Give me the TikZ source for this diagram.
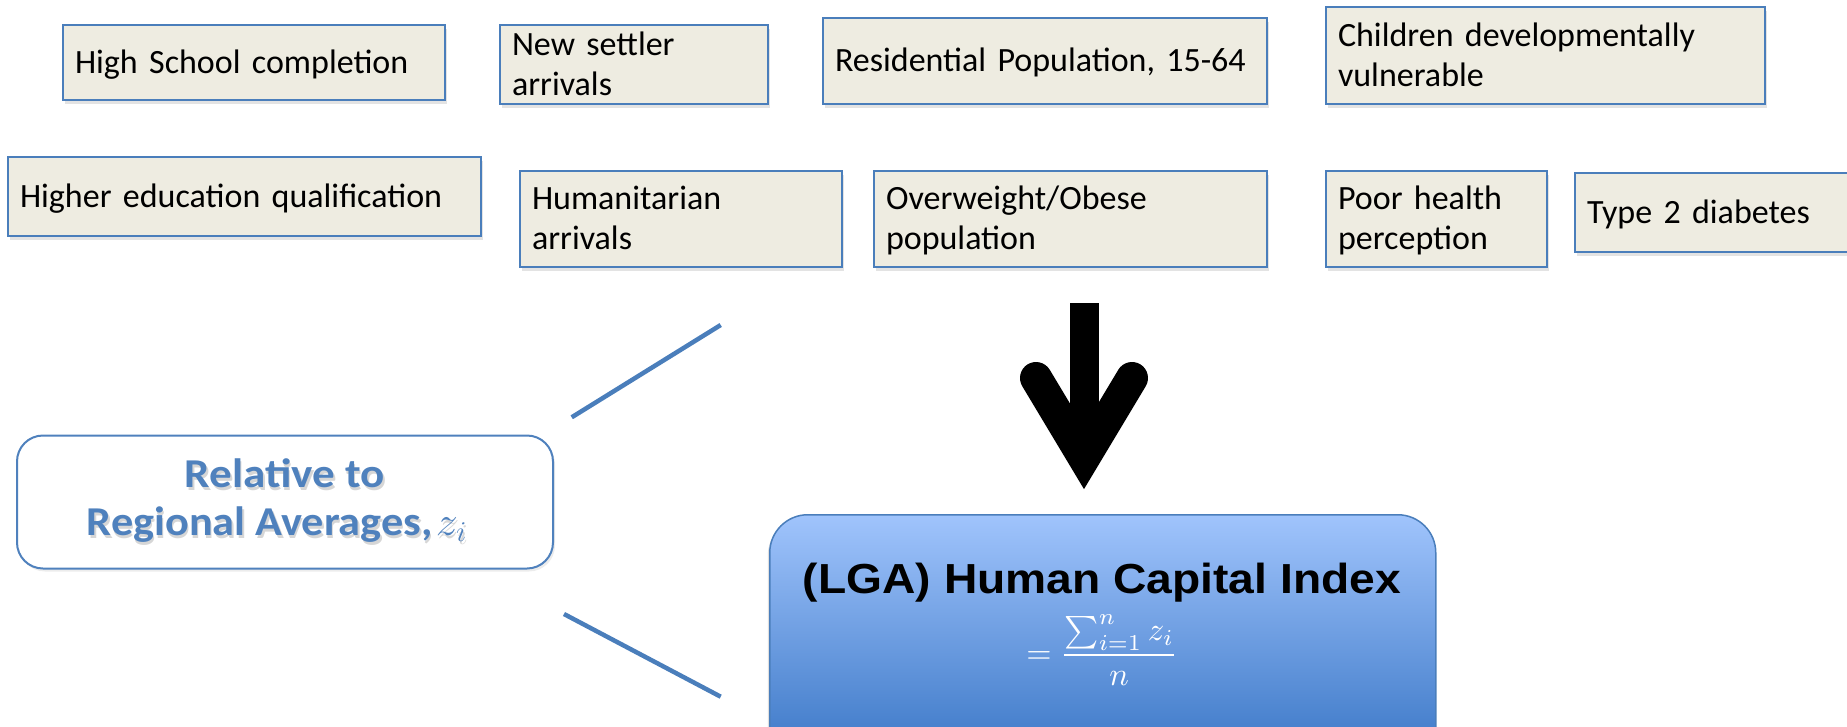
\documentclass[tikz,border=0pt]{standalone}
\usepackage{fix-cm}
\usepackage{fontspec}
\setmainfont{Carlito}
\newfontfamily\headfont{Liberation Sans}
\usepackage{graphicx}
\usetikzlibrary{shadows}

\definecolor{boxfill}{HTML}{EEECE1}
\definecolor{boxline}{HTML}{4A7EBB}
\definecolor{accent}{HTML}{4F81BD}
\definecolor{hcitop}{HTML}{A0C4FC}
\definecolor{hcibot}{HTML}{3875C5}

\newcommand\widen[2][1.1]{\scalebox{#1}[1]{#2}}

\begin{document}
\begin{tikzpicture}[x=1pt,y=-1pt,
  factor/.style={draw=boxline, line width=2.4pt, fill=boxfill,
    anchor=north west, outer sep=0pt, inner xsep=12pt, inner ysep=0pt,
    align=left, font=\fontsize{34}{40}\selectfont,
    execute at begin node={\rule{0pt}{30pt}},
    execute at end node={\rule[-9pt]{0pt}{9pt}},
    drop shadow={shadow xshift=2pt, shadow yshift=-4pt, opacity=0.22}},
  relbox/.style={draw=accent, line width=2pt, fill=white, rounded corners=26pt,
    inner sep=0pt, drop shadow={shadow xshift=2pt, shadow yshift=-3pt, opacity=0.15}},
  reltext/.style={align=center, inner sep=0pt,
    font=\fontsize{41}{48}\selectfont\bfseries,
    execute at begin node={\rule{0pt}{40pt}},
    execute at end node={\rule[-10pt]{0pt}{10pt}}},
  hcibox/.style={draw=boxline, line width=1.5pt, rounded corners=38pt,
    top color=hcitop, bottom color=hcibot, anchor=north west, inner sep=0pt,
    drop shadow={shadow xshift=-2pt, shadow yshift=-3pt, opacity=0.25}},
  bracket/.style={draw=boxline, line width=4.5pt},
]
\useasboundingbox (0,0) rectangle (1847,726);
\clip (0,0) rectangle (1847,726);

% indicator boxes, first row
\node[factor, minimum width=382pt, minimum height=75pt, text width=358pt] (hs) at (63,25) {High School completion};
\node[factor, minimum width=268pt, minimum height=79pt, text width=244pt] (ns) at (500,25) {New settler\\arrivals};
\node[factor, minimum width=444pt, minimum height=86pt, text width=420pt] (rp) at (823,18) {Residential Population, 15-64};
\node[factor, minimum width=439pt, minimum height=97pt, text width=415pt] (cd) at (1326,7) {Children developmentally\\vulnerable};

% indicator boxes, second row
\node[factor, minimum width=473pt, minimum height=79pt, text width=449pt] (he) at (8,157) {Higher education qualification};
\node[factor, minimum width=322pt, minimum height=96pt, text width=298pt] (ha) at (520,171) {Humanitarian\\arrivals};
\node[factor, minimum width=393pt, minimum height=96pt, text width=369pt] (oo) at (874,171) {Overweight/Obese\\population};
\node[factor, minimum width=221pt, minimum height=96pt, text width=197pt] (ph) at (1326,171) {Poor health\\perception};
\node[factor, minimum width=300pt, minimum height=79pt, text width=276pt] (td) at (1575,173) {Type 2 diabetes};

% standardisation box with soft-shadowed lettering
\node[relbox, minimum width=536pt, minimum height=133pt] (rel) at (285,502) {};
\node[reltext, text=black, opacity=0.16] (relshade) at ([xshift=1.5pt,yshift=-3pt]rel.center) {\widen[1.1]{Relative to}\\\widen[1.08]{Regional Averages,\kern3pt$z_i$\kern15pt}};
\node[reltext, text=accent] (reltxt) at (rel.center) {\widen[1.1]{Relative to}\\\widen[1.08]{Regional Averages,\kern3pt$z_i$\kern15pt}};

% bracket strokes
\coordinate (bu1) at (571.7,417.3);
\coordinate (bu2) at (720.7,325);
\coordinate (bl1) at (564,614);
\coordinate (bl2) at (720.7,696.7);
\draw[bracket] (bu1) -- (bu2);
\draw[bracket] (bl1) -- (bl2);

% downward arrow
\coordinate (arrtop) at (1084.5,303);
\coordinate (arrjoin) at (1084.5,432);
\coordinate (armL) at (1036,378);
\coordinate (arrtip) at (1084,458);
\coordinate (armR) at (1132,378);
\draw[line width=29pt] (arrtop) -- (arrjoin);
\draw[line width=32pt, line cap=round, line join=miter] (armL) -- (arrtip) -- (armR);

% index box
\node[hcibox, minimum width=666pt, minimum height=250pt] (hci) at (769,514) {};
\node[anchor=base, inner sep=0pt, font={\fontsize{42}{48}\selectfont\headfont\bfseries}] (hcititle) at (1102,593) {\widen{(LGA) Human Capital Index}};
\node[anchor=base, inner sep=0pt, text=white] (hciformula) at (1102,663) {\scalebox{3.25}{$\displaystyle =\frac{\sum_{i=1}^{n} z_i}{n}$}};
\end{tikzpicture}
\end{document}
